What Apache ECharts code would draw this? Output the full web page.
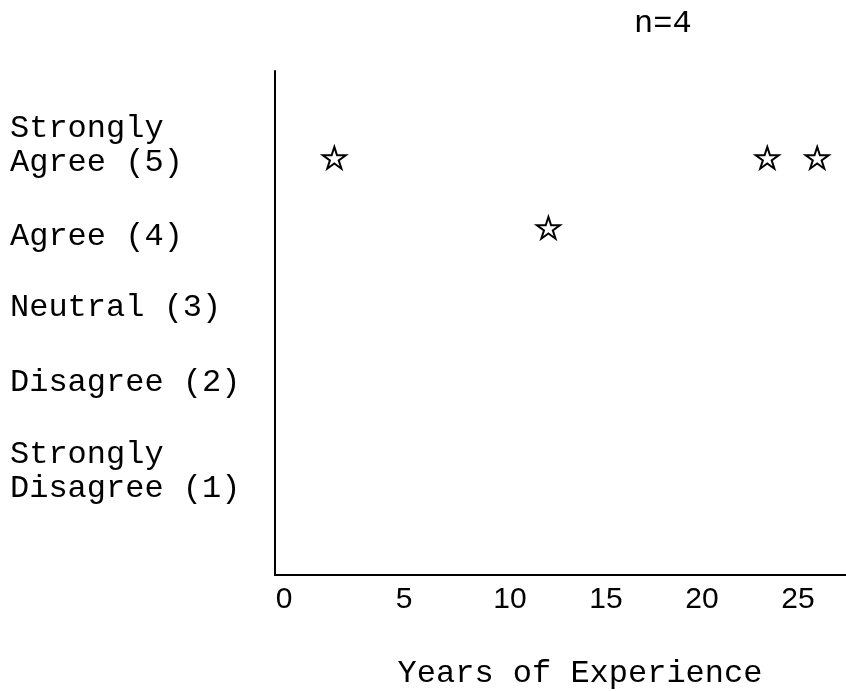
<!DOCTYPE html>
<html>
<head>
<meta charset="utf-8">
<script src="https://cdn.jsdelivr.net/npm/echarts@6/dist/echarts.min.js"></script>
<style>
html,body{margin:0;padding:0;background:#fff;}
#chart{width:846px;height:691px;}
</style>
</head>
<body>
<div id="chart"></div>
<script>
// ---- data ----
const xTickValues = [0, 5, 10, 15, 20, 25];
const yLevels = [1, 2, 3, 4, 5];
const yLevelNames = ['Strongly\nDisagree (1)', 'Disagree (2)', 'Neutral (3)', 'Agree (4)', 'Strongly\nAgree (5)'];
const years = [0.85, 12, 23.4, 26];
const ratings = [5, 4, 5, 5];
const sampleNote = 'n=4';
const xTitle = 'Years of Experience';

// ---- styling / layout ----
const MONO = "'Liberation Mono', 'Courier New', monospace";
const SANS = "'Liberation Sans', Arial, sans-serif";
const labelShift = {1: 34, 2: 15, 3: 10, 4: 9, 5: -12};   // vertical nudge of each y label (px)
const xLabelShift = {0: 34, 5: 10};                       // leftward nudge of x labels (px)

const rich = {
  t: {fontFamily: MONO, fontSize: 32, lineHeight: 34, color: '#000'}
};
Object.keys(labelShift).forEach(k => {
  const h = Math.abs(labelShift[k]) * 2;
  rich['s' + k] = {fontSize: 1, lineHeight: h, color: 'rgba(0,0,0,0)'};
});
const xRich = {
  d: {fontFamily: SANS, fontSize: 30, color: '#000'}
};
Object.keys(xLabelShift).forEach(k => {
  xRich['p' + k] = {fontFamily: SANS, fontSize: 30, color: '#000', padding: [0, xLabelShift[k] * 2, 0, 0]};
});

function yFormatter(v) {
  const i = yLevels.indexOf(v);
  if (i < 0) return '';
  const body = yLevelNames[i].split('\n').map(s => '{t|' + s + '}').join('\n');
  const sh = labelShift[v] || 0;
  if (sh > 0) return '{s' + v + '| }\n' + body;
  if (sh < 0) return body + '\n{s' + v + '| }';
  return body;
}
function xFormatter(v) {
  if (xLabelShift[v] !== undefined) return '{p' + v + '|' + v + '}';
  return '{d|' + v + '}';
}

const starPath = 'path://M50 0 L61.2 34.5 L97.6 34.5 L68.2 55.9 L79.4 90.5 L50 69.1 L20.6 90.5 L31.8 55.9 L2.4 34.5 L38.8 34.5 Z';

const chart = echarts.init(document.getElementById('chart'), null, {renderer: 'canvas'});
chart.setOption({
  animation: false,
  backgroundColor: '#fff',
  title: {
    text: sampleNote,
    left: 629,
    top: 3,
    textStyle: {fontFamily: MONO, fontSize: 32, fontWeight: 'normal', color: '#000'}
  },
  grid: {left: 275, right: 0, top: 71, bottom: 116, containLabel: false, outerBoundsMode: 'none'},
  xAxis: {
    type: 'value',
    min: -2.24,
    max: 27.5,
    name: xTitle,
    nameLocation: 'middle',
    nameGap: 83,
    nameTextStyle: {fontFamily: MONO, fontSize: 32, color: '#000', padding: [0, 0, 0, 39]},
    axisLine: {show: true, onZero: false, lineStyle: {color: '#000', width: 2}},
    axisTick: {show: false},
    splitLine: {show: false},
    axisLabel: {
      customValues: xTickValues,
      formatter: xFormatter,
      rich: xRich,
      margin: 10,
      color: '#000',
      fontFamily: SANS,
      fontSize: 30,
      showMinLabel: true,
      showMaxLabel: true
    }
  },
  yAxis: {
    type: 'value',
    min: -0.96,
    max: 6.24,
    axisLine: {show: true, onZero: false, lineStyle: {color: '#000', width: 2}},
    axisTick: {show: false},
    splitLine: {show: false},
    axisLabel: {
      customValues: yLevels,
      formatter: yFormatter,
      rich: rich,
      align: 'left',
      margin: 265,
      color: '#000',
      fontFamily: MONO,
      fontSize: 32
    }
  },
  series: [{
    type: 'scatter',
    data: years.map((x, i) => [x, ratings[i]]),
    symbol: starPath,
    symbolKeepAspect: true,
    symbolSize: 23,
    itemStyle: {color: '#fff', borderColor: '#000', borderWidth: 2, opacity: 1}
  }]
});
</script>
</body>
</html>
